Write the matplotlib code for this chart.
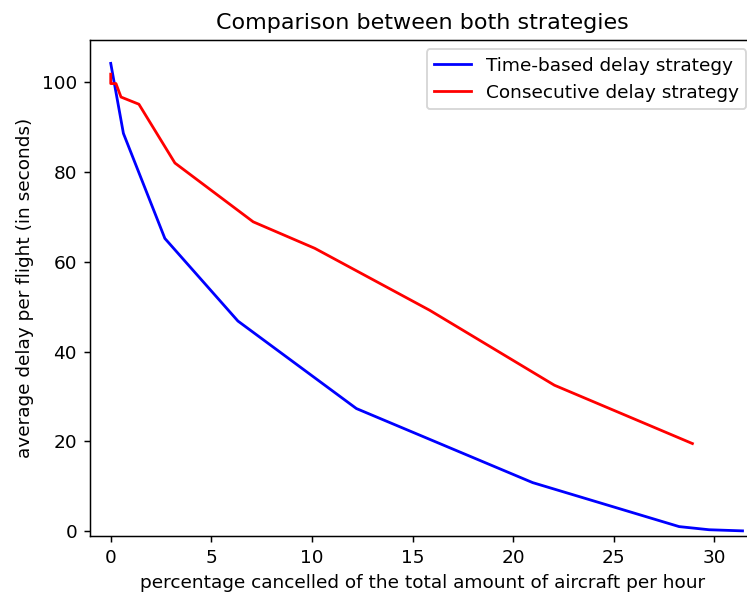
import matplotlib
matplotlib.use("Agg")
import matplotlib.pyplot as plt

# percentage cancelled vs average delay
time_x = [0, 0.63, 2.69, 6.32, 12.21, 20.97, 28.25, 29.74, 31.4]
time_y = [104.2, 88.6, 65.2, 46.8, 27.3, 10.8, 1.0, 0.3, 0.05]

cons_x = [0, 0, 0.26, 0.51, 1.4, 3.19, 7.08, 10.14, 15.85, 22.05, 28.91]
cons_y = [101.8, 99.7, 99.7, 96.7, 95.1, 82.0, 68.9, 63.0, 49.2, 32.5, 19.5]

fig = plt.figure(figsize=(747/133.33, 594/133.33), dpi=133.33)
ax = fig.add_axes([0.1205, 0.0976, 0.891, 0.835])

ax.plot(time_x, time_y, color='blue', label='Time-based delay strategy')
ax.plot(cons_x, cons_y, color='red', label='Consecutive delay strategy')

# axes run slightly past the right edge, like the cropped original
ax.set_xlim(-1.03, 32.05)
ax.set_ylim(-1.1, 109.4)
ax.set_xlabel('percentage cancelled of the total amount of aircraft per hour')
ax.set_ylabel('average delay per flight (in seconds)')
ax.set_title('Comparison between both strategies')
ax.legend(loc='upper right')

fig.savefig('out.png', dpi=133.33)
